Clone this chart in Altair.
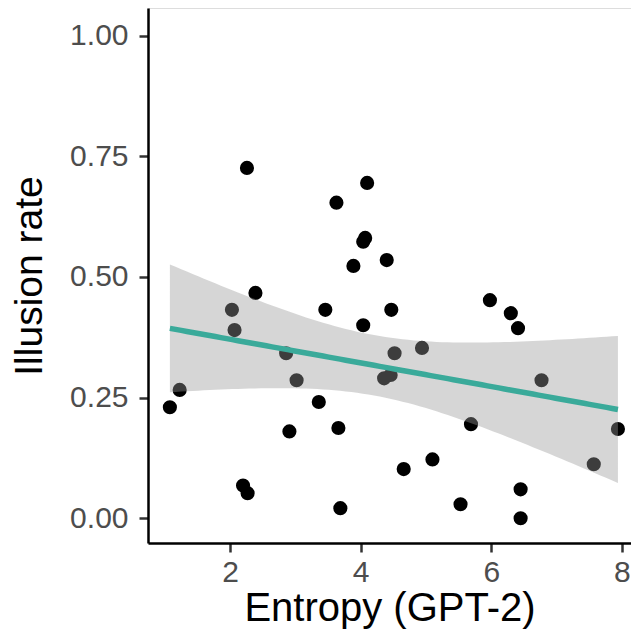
import altair as alt
import numpy as np
import pandas as pd

# Data
entropy = [1.08, 1.23, 2.26, 2.03, 2.07, 2.39, 2.86, 3.02, 2.91, 2.20,
           2.27, 3.36, 3.46, 3.63, 3.66, 3.69, 3.89, 4.04, 4.07, 4.10,
           4.04, 4.40, 4.47, 4.36, 4.46, 4.52, 4.66, 4.94, 5.10, 5.53,
           5.69, 5.98, 6.30, 6.41, 6.45, 6.45, 6.77, 7.57, 7.94]
illusion = [0.230, 0.266, 0.726, 0.432, 0.390, 0.467, 0.342, 0.286, 0.180, 0.068,
            0.052, 0.241, 0.432, 0.654, 0.187, 0.021, 0.523, 0.573, 0.581, 0.695,
            0.400, 0.535, 0.432, 0.290, 0.297, 0.342, 0.102, 0.353, 0.122, 0.029,
            0.195, 0.452, 0.425, 0.394, 0.060, 0.000, 0.286, 0.112, 0.185]

x_ticks = [2, 4, 6, 8]
y_ticks = [0.0, 0.25, 0.5, 0.75, 1.0]

pts = pd.DataFrame({"x": entropy, "y": illusion})

# Linear fit with 95% confidence band (as geom_smooth(method = "lm"))
xa = np.array(entropy)
ya = np.array(illusion)
n = len(xa)
b, a = np.polyfit(xa, ya, 1)
resid = ya - (a + b * xa)
s = np.sqrt(np.sum(resid ** 2) / (n - 2))
sxx = np.sum((xa - xa.mean()) ** 2)
tcrit = 2.026  # t(0.975, df=37)
grid = np.linspace(xa.min(), xa.max(), 80)
fit = a + b * grid
se = s * np.sqrt(1.0 / n + (grid - xa.mean()) ** 2 / sxx)
band = pd.DataFrame({"x": grid, "fit": fit, "lo": fit - tcrit * se, "hi": fit + tcrit * se})

xscale = alt.Scale(domain=[0.745, 8.14], nice=False, zero=False)
yscale = alt.Scale(domain=[-0.0512, 1.0574], nice=False, zero=False)

FONT = "Liberation Sans"

xaxis = alt.Axis(title="Entropy (GPT-2)", values=x_ticks, grid=False, format="d",
                 domainColor="black", domainWidth=2.5, tickColor="#333333", tickWidth=2.5,
                 tickSize=9, labelFontSize=30, labelColor="#4D4D4D", labelFont=FONT,
                 labelPadding=5, titleFontSize=40, titleColor="black", titleFont=FONT,
                 titleFontWeight="normal", titlePadding=1)
yaxis = alt.Axis(title="Illusion rate", values=y_ticks, grid=False, format=".2f",
                 domainColor="black", domainWidth=2.5, tickColor="#333333", tickWidth=2.5,
                 tickSize=9, labelFontSize=30, labelColor="#4D4D4D", labelFont=FONT,
                 labelPadding=11, titleFontSize=39, titleColor="black", titleFont=FONT,
                 titleFontWeight="normal", titlePadding=20)

points = alt.Chart(pts).mark_circle(size=200, color="black", opacity=1).encode(
    x=alt.X("x:Q", scale=xscale, axis=xaxis),
    y=alt.Y("y:Q", scale=yscale, axis=yaxis),
)

ribbon = alt.Chart(band).mark_area(color="#999999", opacity=0.4).encode(
    x=alt.X("x:Q", scale=xscale),
    y=alt.Y("lo:Q", scale=yscale),
    y2="hi:Q",
)

line = alt.Chart(band).mark_line(color="#3AAA9A", strokeWidth=5.5).encode(
    x=alt.X("x:Q", scale=xscale),
    y=alt.Y("fit:Q", scale=yscale),
)

chart = alt.layer(points, ribbon, line).properties(
    width=483, height=535,
    autosize=alt.AutoSizeParams(type="none"),
    padding={"left": 140, "top": 0, "right": 0, "bottom": 89},
).configure_view(stroke=None).configure(background="white")

chart.save("out.html", embed_options={"renderer": "svg", "actions": False})
